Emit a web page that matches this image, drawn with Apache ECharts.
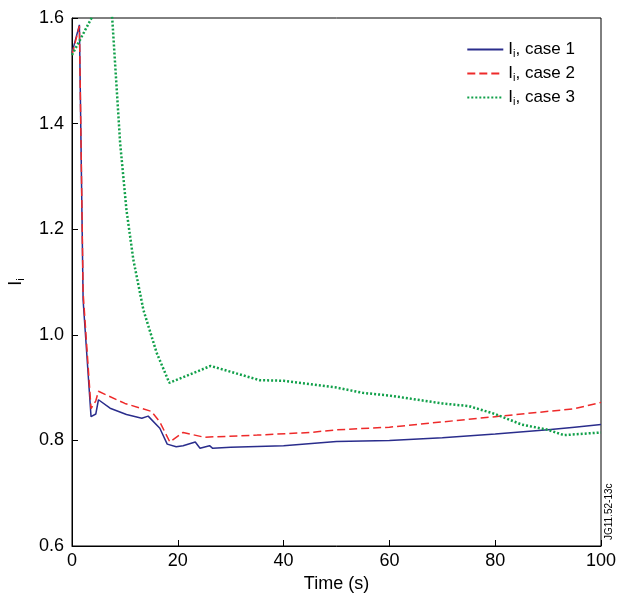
<!DOCTYPE html>
<html>
<head>
<meta charset="UTF-8">
<script src="https://cdn.jsdelivr.net/npm/echarts@6/dist/echarts.min.js"></script>
<style>body{margin:0;background:#fff}#main{width:620px;height:599px}</style>
</head>
<body>
<div id="main"></div>
<script>
// case 1 (solid blue)
var case1X = [0, 1.4, 2.1, 3.6, 4.5, 5.0, 7.2, 10.3, 13.2, 14.4, 16.6, 18.0, 19.7, 21, 23.3, 24.2, 26, 26.6, 30, 40, 50, 60, 70, 80, 90, 95, 100];
var case1Y = [1.534, 1.587, 1.066, 0.845, 0.85, 0.877, 0.861, 0.849, 0.842, 0.846, 0.823, 0.793, 0.788, 0.79, 0.797, 0.785, 0.79, 0.785, 0.787, 0.79, 0.798, 0.8, 0.805, 0.812, 0.82, 0.825, 0.83];
// case 2 (dashed red)
var case2X = [0, 1.4, 2.1, 3.6, 4.5, 5.0, 10, 15, 16.6, 18.5, 21, 25, 35, 45, 50, 60, 70, 80, 85, 95, 100];
var case2Y = [1.53, 1.585, 1.08, 0.86, 0.875, 0.893, 0.87, 0.855, 0.835, 0.797, 0.815, 0.806, 0.81, 0.815, 0.82, 0.825, 0.835, 0.845, 0.85, 0.86, 0.872];
// case 3 (dotted green)
var case3X = [0, 3.7, 5.5, 7.6, 9.1, 10.3, 11.6, 13.5, 16, 18.4, 26.2, 35.5, 40, 50, 55, 60, 70, 75, 80, 85, 90, 93, 100];
var case3Y = [1.53, 1.6, 1.7, 1.6, 1.363, 1.236, 1.142, 1.047, 0.966, 0.909, 0.941, 0.914, 0.913, 0.9, 0.89, 0.885, 0.87, 0.865, 0.85, 0.83, 0.82, 0.81, 0.815];
var yTicks = [0.6, 0.8, 1.0, 1.2, 1.4, 1.6];

function pairs(xs, ys) {
    return xs.map(function (x, i) { return [x, ys[i]]; });
}

var chart = echarts.init(document.getElementById('main'));
var font = 'Liberation Sans';
var legendRich = { s: { fontSize: 11, verticalAlign: 'bottom', padding: [8, 0, 0, 0], fontFamily: font } };
chart.setOption({
    animation: false,
    textStyle: { fontFamily: font },
    grid: { left: 72, right: 19, top: 18, bottom: 53, outerBoundsMode: 'none', containLabel: false,
            show: true, borderColor: '#000', borderWidth: 1 },
    legend: {
        top: 36, right: 40, orient: 'vertical', itemWidth: 36, itemHeight: 14, itemGap: 6,
        textStyle: { fontSize: 17, color: '#000', rich: legendRich },
        formatter: function (n) { return 'I{s|i}, ' + n; },
        itemStyle: { opacity: 0 }
    },
    xAxis: {
        type: 'value', min: 0, max: 100, interval: 20,
        name: 'Time (s)', nameLocation: 'middle', nameGap: 28,
        nameTextStyle: { fontSize: 18, color: '#000' },
        axisLine: { lineStyle: { color: '#000' } },
        axisTick: { inside: true, length: 6, lineStyle: { color: '#000' } },
        axisLabel: { fontSize: 18, color: '#000', margin: 6 },
        splitLine: { show: false }
    },
    yAxis: {
        type: 'value', min: 0.6, max: 1.6, interval: 0.2,
        name: 'I{s|i}', nameLocation: 'middle', nameGap: 46, nameRotate: 90,
        nameTextStyle: { fontSize: 18, color: '#000', rich: legendRich },
        axisLine: { lineStyle: { color: '#000' } },
        axisTick: { inside: true, length: 6, lineStyle: { color: '#000' } },
        axisLabel: { fontSize: 18, color: '#000', formatter: function (v) { return v.toFixed(1); } },
        splitLine: { show: false }
    },
    series: [
        { name: 'case 1', type: 'line', data: pairs(case1X, case1Y), showSymbol: false, clip: true,
          itemStyle: { color: '#2a2d8c' }, lineStyle: { color: '#2a2d8c', width: 1.5 } },
        { name: 'case 2', type: 'line', data: pairs(case2X, case2Y), showSymbol: false, clip: true,
          itemStyle: { color: '#ee2a2a' }, lineStyle: { color: '#ee2a2a', width: 1.5, type: [8, 4] } },
        { name: 'case 3', type: 'line', data: pairs(case3X, case3Y), showSymbol: false, clip: true,
          itemStyle: { color: '#11a04a' }, lineStyle: { color: '#11a04a', width: 2.5, type: [2, 2] } }
    ],
    graphic: [{
        type: 'text', x: 604, y: 540, rotation: Math.PI / 2,
        style: { text: 'JG11.52-13c', fontSize: 10, fill: '#000', fontFamily: font }
    }]
});
</script>
</body>
</html>
